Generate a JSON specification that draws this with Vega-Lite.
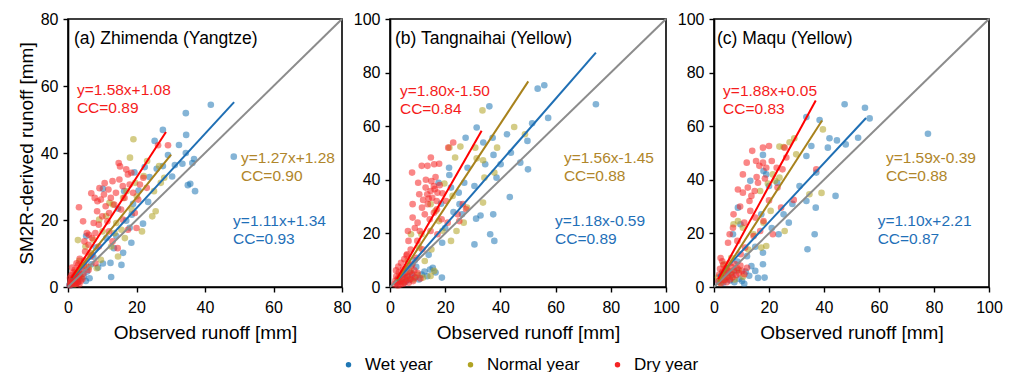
{
"$schema": "https://vega.github.io/schema/vega-lite/v6.json",
"background": "white",
"padding": {"left": 16, "top": 10, "right": 5, "bottom": 0},
"config": {
  "font": "Liberation Sans",
  "view": {"stroke": "#000", "strokeWidth": 1.6},
  "axis": {"domainColor": "#000", "domainWidth": 1.6, "tickColor": "#000", "tickWidth": 1.4, "labelColor": "#000", "labelFontSize": 16, "titleFontSize": 19, "titleFontWeight": "normal", "titleColor": "#000", "grid": false, "labelFlush": false, "labelOverlap": false},
  "axisX": {"labelPadding": 7},
  "axisY": {"labelPadding": 5},
  "legend": {"labelFontSize": 17, "labelColor": "#000", "symbolType": "circle", "symbolSize": 30, "symbolOpacity": 1, "symbolStrokeWidth": 0, "columnPadding": 29, "labelOffset": 8}
},
"datasets": {
"pts": [
{"panel":"a","year":"Wet year","obs":0.4,"sim":0.6},{"panel":"a","year":"Wet year","obs":0.7,"sim":1.4},{"panel":"a","year":"Wet year","obs":0.9,"sim":0.5},{"panel":"a","year":"Wet year","obs":1.1,"sim":2.1},{"panel":"a","year":"Wet year","obs":1.3,"sim":1.1},{"panel":"a","year":"Wet year","obs":1.6,"sim":2.9},{"panel":"a","year":"Wet year","obs":1.9,"sim":0.9},{"panel":"a","year":"Wet year","obs":2.2,"sim":3.6},{"panel":"a","year":"Wet year","obs":2.5,"sim":2.0},{"panel":"a","year":"Wet year","obs":2.9,"sim":1.4},{"panel":"a","year":"Wet year","obs":3.2,"sim":4.4},{"panel":"a","year":"Wet year","obs":3.6,"sim":2.6},{"panel":"a","year":"Wet year","obs":4.1,"sim":6.0},{"panel":"a","year":"Wet year","obs":4.6,"sim":3.1},{"panel":"a","year":"Wet year","obs":5.2,"sim":1.8},{"panel":"a","year":"Wet year","obs":5.6,"sim":4.6},{"panel":"a","year":"Wet year","obs":6.3,"sim":2.6},
{"panel":"a","year":"Wet year","obs":5.3,"sim":15.2},{"panel":"a","year":"Wet year","obs":6.8,"sim":6.8},{"panel":"a","year":"Wet year","obs":7.4,"sim":9.0},{"panel":"a","year":"Wet year","obs":8.1,"sim":11.8},{"panel":"a","year":"Wet year","obs":8.8,"sim":5.8},{"panel":"a","year":"Wet year","obs":10.2,"sim":7.0},{"panel":"a","year":"Wet year","obs":10.2,"sim":29.3},{"panel":"a","year":"Wet year","obs":11.2,"sim":14.6},{"panel":"a","year":"Wet year","obs":12.4,"sim":7.2},{"panel":"a","year":"Wet year","obs":12.6,"sim":3.0},{"panel":"a","year":"Wet year","obs":13.4,"sim":11.6},{"panel":"a","year":"Wet year","obs":14.1,"sim":15.2},{"panel":"a","year":"Wet year","obs":14.6,"sim":23.4},{"panel":"a","year":"Wet year","obs":15.6,"sim":6.6},{"panel":"a","year":"Wet year","obs":16.1,"sim":10.2},{"panel":"a","year":"Wet year","obs":16.4,"sim":28.6},{"panel":"a","year":"Wet year","obs":17.0,"sim":19.8},{"panel":"a","year":"Wet year","obs":18.0,"sim":17.7},{"panel":"a","year":"Wet year","obs":18.5,"sim":13.2},{"panel":"a","year":"Wet year","obs":18.6,"sim":21.6},{"panel":"a","year":"Wet year","obs":19.0,"sim":24.8},{"panel":"a","year":"Wet year","obs":19.4,"sim":34.2},{"panel":"a","year":"Wet year","obs":20.6,"sim":28.8},{"panel":"a","year":"Wet year","obs":21.9,"sim":18.9},{"panel":"a","year":"Wet year","obs":22.4,"sim":35.8},{"panel":"a","year":"Wet year","obs":23.4,"sim":25.4},{"panel":"a","year":"Wet year","obs":23.8,"sim":32.8},{"panel":"a","year":"Wet year","obs":25.3,"sim":43.6},{"panel":"a","year":"Wet year","obs":25.9,"sim":35.3},{"panel":"a","year":"Wet year","obs":27.7,"sim":46.9},{"panel":"a","year":"Wet year","obs":27.7,"sim":36.1},{"panel":"a","year":"Wet year","obs":29.2,"sim":39.4},{"panel":"a","year":"Wet year","obs":30.4,"sim":33.0},{"panel":"a","year":"Wet year","obs":31.2,"sim":36.4},{"panel":"a","year":"Wet year","obs":32.4,"sim":42.4},{"panel":"a","year":"Wet year","obs":33.4,"sim":36.8},{"panel":"a","year":"Wet year","obs":34.4,"sim":51.9},{"panel":"a","year":"Wet year","obs":34.5,"sim":45.4},{"panel":"a","year":"Wet year","obs":34.4,"sim":40.0},{"panel":"a","year":"Wet year","obs":35.0,"sim":30.4},{"panel":"a","year":"Wet year","obs":35.7,"sim":30.8},{"panel":"a","year":"Wet year","obs":36.3,"sim":37.0},{"panel":"a","year":"Wet year","obs":37.1,"sim":28.6},{"panel":"a","year":"Wet year","obs":36.8,"sim":38.2},{"panel":"a","year":"Wet year","obs":41.7,"sim":54.4},{"panel":"a","year":"Wet year","obs":48.4,"sim":38.9},
{"panel":"a","year":"Normal year","obs":0.8,"sim":1.4},{"panel":"a","year":"Normal year","obs":1.4,"sim":2.4},{"panel":"a","year":"Normal year","obs":2.0,"sim":0.8},{"panel":"a","year":"Normal year","obs":2.4,"sim":4.6},{"panel":"a","year":"Normal year","obs":2.9,"sim":14.0},{"panel":"a","year":"Normal year","obs":3.3,"sim":7.8},{"panel":"a","year":"Normal year","obs":3.9,"sim":3.0},{"panel":"a","year":"Normal year","obs":4.6,"sim":6.4},{"panel":"a","year":"Normal year","obs":5.1,"sim":12.1},{"panel":"a","year":"Normal year","obs":6.1,"sim":5.9},{"panel":"a","year":"Normal year","obs":6.6,"sim":10.1},{"panel":"a","year":"Normal year","obs":7.4,"sim":14.1},{"panel":"a","year":"Normal year","obs":8.4,"sim":5.6},{"panel":"a","year":"Normal year","obs":9.1,"sim":20.1},{"panel":"a","year":"Normal year","obs":9.6,"sim":8.1},{"panel":"a","year":"Normal year","obs":10.1,"sim":16.6},{"panel":"a","year":"Normal year","obs":11.1,"sim":21.2},{"panel":"a","year":"Normal year","obs":12.1,"sim":25.1},{"panel":"a","year":"Normal year","obs":12.6,"sim":12.1},{"panel":"a","year":"Normal year","obs":13.1,"sim":24.6},{"panel":"a","year":"Normal year","obs":13.6,"sim":16.1},{"panel":"a","year":"Normal year","obs":14.1,"sim":19.1},{"panel":"a","year":"Normal year","obs":14.6,"sim":9.1},{"panel":"a","year":"Normal year","obs":15.6,"sim":17.1},{"panel":"a","year":"Normal year","obs":16.1,"sim":26.6},{"panel":"a","year":"Normal year","obs":16.6,"sim":14.6},{"panel":"a","year":"Normal year","obs":17.1,"sim":28.6},{"panel":"a","year":"Normal year","obs":18.1,"sim":38.6},{"panel":"a","year":"Normal year","obs":18.6,"sim":23.1},{"panel":"a","year":"Normal year","obs":19.1,"sim":44.1},{"panel":"a","year":"Normal year","obs":19.6,"sim":31.1},{"panel":"a","year":"Normal year","obs":20.1,"sim":27.1},{"panel":"a","year":"Normal year","obs":21.6,"sim":16.6},{"panel":"a","year":"Normal year","obs":22.1,"sim":33.1},{"panel":"a","year":"Normal year","obs":23.1,"sim":37.6},{"panel":"a","year":"Normal year","obs":24.6,"sim":21.1},{"panel":"a","year":"Normal year","obs":25.1,"sim":28.6},{"panel":"a","year":"Normal year","obs":25.6,"sim":22.6},{"panel":"a","year":"Normal year","obs":26.6,"sim":36.1},{"panel":"a","year":"Normal year","obs":27.1,"sim":31.1},{"panel":"a","year":"Normal year","obs":28.1,"sim":32.6},
{"panel":"a","year":"Dry year","obs":0.5,"sim":0.5},{"panel":"a","year":"Dry year","obs":0.7,"sim":1.3},{"panel":"a","year":"Dry year","obs":0.9,"sim":2.0},{"panel":"a","year":"Dry year","obs":1.1,"sim":0.8},{"panel":"a","year":"Dry year","obs":1.3,"sim":1.7},{"panel":"a","year":"Dry year","obs":1.5,"sim":2.6},{"panel":"a","year":"Dry year","obs":1.7,"sim":1.0},{"panel":"a","year":"Dry year","obs":1.9,"sim":3.2},{"panel":"a","year":"Dry year","obs":2.1,"sim":1.9},{"panel":"a","year":"Dry year","obs":2.3,"sim":0.9},{"panel":"a","year":"Dry year","obs":2.5,"sim":2.5},{"panel":"a","year":"Dry year","obs":2.7,"sim":4.0},{"panel":"a","year":"Dry year","obs":2.9,"sim":1.4},{"panel":"a","year":"Dry year","obs":3.1,"sim":2.9},{"panel":"a","year":"Dry year","obs":3.3,"sim":0.8},{"panel":"a","year":"Dry year","obs":3.5,"sim":3.6},{"panel":"a","year":"Dry year","obs":3.7,"sim":1.8},{"panel":"a","year":"Dry year","obs":3.9,"sim":5.2},{"panel":"a","year":"Dry year","obs":1.0,"sim":3.5},{"panel":"a","year":"Dry year","obs":0.6,"sim":2.7},{"panel":"a","year":"Dry year","obs":2.0,"sim":5.1},{"panel":"a","year":"Dry year","obs":3.0,"sim":6.6},{"panel":"a","year":"Dry year","obs":1.5,"sim":4.3},{"panel":"a","year":"Dry year","obs":2.5,"sim":1.2},{"panel":"a","year":"Dry year","obs":4.2,"sim":2.4},{"panel":"a","year":"Dry year","obs":4.5,"sim":4.0},{"panel":"a","year":"Dry year","obs":1.2,"sim":5.8},{"panel":"a","year":"Dry year","obs":3.4,"sim":8.4},
{"panel":"a","year":"Dry year","obs":3.2,"sim":23.8},{"panel":"a","year":"Dry year","obs":4.4,"sim":19.6},{"panel":"a","year":"Dry year","obs":6.1,"sim":15.6},{"panel":"a","year":"Dry year","obs":6.8,"sim":28.0},{"panel":"a","year":"Dry year","obs":7.8,"sim":26.6},{"panel":"a","year":"Dry year","obs":9.2,"sim":29.5},{"panel":"a","year":"Dry year","obs":10.7,"sim":31.0},{"panel":"a","year":"Dry year","obs":14.8,"sim":37.0},{"panel":"a","year":"Dry year","obs":15.2,"sim":36.0},{"panel":"a","year":"Dry year","obs":26.3,"sim":42.3},{"panel":"a","year":"Dry year","obs":29.2,"sim":42.3},
{"panel":"a","year":"Dry year","obs":4.8,"sim":8.0},{"panel":"a","year":"Dry year","obs":5.0,"sim":10.6},{"panel":"a","year":"Dry year","obs":5.5,"sim":6.1},{"panel":"a","year":"Dry year","obs":6.0,"sim":12.6},{"panel":"a","year":"Dry year","obs":6.5,"sim":9.1},{"panel":"a","year":"Dry year","obs":7.0,"sim":14.6},{"panel":"a","year":"Dry year","obs":7.5,"sim":19.1},{"panel":"a","year":"Dry year","obs":8.0,"sim":16.1},{"panel":"a","year":"Dry year","obs":8.5,"sim":22.6},{"panel":"a","year":"Dry year","obs":8.6,"sim":25.6},{"panel":"a","year":"Dry year","obs":9.0,"sim":18.6},{"panel":"a","year":"Dry year","obs":9.6,"sim":26.1},{"panel":"a","year":"Dry year","obs":10.0,"sim":21.1},{"panel":"a","year":"Dry year","obs":10.5,"sim":27.6},{"panel":"a","year":"Dry year","obs":11.0,"sim":24.1},{"panel":"a","year":"Dry year","obs":11.5,"sim":19.6},{"panel":"a","year":"Dry year","obs":11.8,"sim":29.1},{"panel":"a","year":"Dry year","obs":12.0,"sim":22.1},{"panel":"a","year":"Dry year","obs":12.5,"sim":26.6},{"panel":"a","year":"Dry year","obs":13.0,"sim":31.6},{"panel":"a","year":"Dry year","obs":13.5,"sim":24.6},{"panel":"a","year":"Dry year","obs":14.0,"sim":28.1},{"panel":"a","year":"Dry year","obs":15.0,"sim":32.1},{"panel":"a","year":"Dry year","obs":15.5,"sim":23.1},{"panel":"a","year":"Dry year","obs":16.0,"sim":30.1},{"panel":"a","year":"Dry year","obs":16.5,"sim":26.6},{"panel":"a","year":"Dry year","obs":17.0,"sim":35.1},{"panel":"a","year":"Dry year","obs":17.5,"sim":33.6},{"panel":"a","year":"Dry year","obs":18.0,"sim":30.6},{"panel":"a","year":"Dry year","obs":18.5,"sim":34.1},{"panel":"a","year":"Dry year","obs":19.0,"sim":28.1},{"panel":"a","year":"Dry year","obs":19.5,"sim":22.1},{"panel":"a","year":"Dry year","obs":20.0,"sim":17.6},{"panel":"a","year":"Dry year","obs":20.5,"sim":26.1},{"panel":"a","year":"Dry year","obs":21.0,"sim":30.6},{"panel":"a","year":"Dry year","obs":22.0,"sim":32.6},{"panel":"a","year":"Dry year","obs":23.0,"sim":29.6},{"panel":"a","year":"Dry year","obs":6.0,"sim":5.1},{"panel":"a","year":"Dry year","obs":7.0,"sim":9.6},{"panel":"a","year":"Dry year","obs":8.0,"sim":7.1},{"panel":"a","year":"Dry year","obs":9.0,"sim":12.1},{"panel":"a","year":"Dry year","obs":4.8,"sim":13.6},{"panel":"a","year":"Dry year","obs":5.5,"sim":16.1},{"panel":"a","year":"Dry year","obs":13.0,"sim":13.6},{"panel":"a","year":"Dry year","obs":14.5,"sim":11.6},{"panel":"a","year":"Dry year","obs":12.0,"sim":16.6},{"panel":"a","year":"Dry year","obs":16.0,"sim":20.1},{"panel":"a","year":"Dry year","obs":17.5,"sim":17.1},{"panel":"a","year":"Dry year","obs":2.5,"sim":7.1},
{"panel":"b","year":"Wet year","obs":2.5,"sim":1.5},{"panel":"b","year":"Wet year","obs":3.2,"sim":3.0},{"panel":"b","year":"Wet year","obs":4.0,"sim":2.2},{"panel":"b","year":"Wet year","obs":4.8,"sim":4.5},{"panel":"b","year":"Wet year","obs":5.5,"sim":1.8},{"panel":"b","year":"Wet year","obs":6.2,"sim":3.6},{"panel":"b","year":"Wet year","obs":7.0,"sim":2.6},{"panel":"b","year":"Wet year","obs":7.8,"sim":5.2},{"panel":"b","year":"Wet year","obs":8.8,"sim":3.4},{"panel":"b","year":"Wet year","obs":9.5,"sim":7.5},{"panel":"b","year":"Wet year","obs":10.5,"sim":2.8},{"panel":"b","year":"Wet year","obs":11.5,"sim":4.6},{"panel":"b","year":"Wet year","obs":12.5,"sim":5.8},{"panel":"b","year":"Wet year","obs":13.5,"sim":4.0},{"panel":"b","year":"Wet year","obs":14.5,"sim":6.5},{"panel":"b","year":"Wet year","obs":15.5,"sim":7.2},{"panel":"b","year":"Wet year","obs":16.5,"sim":5.4},{"panel":"b","year":"Wet year","obs":18.8,"sim":3.5},{"panel":"b","year":"Wet year","obs":9.0,"sim":10.0},{"panel":"b","year":"Wet year","obs":6.0,"sim":6.8},
{"panel":"b","year":"Wet year","obs":17.6,"sim":38.9},{"panel":"b","year":"Wet year","obs":18.5,"sim":31.1},{"panel":"b","year":"Wet year","obs":18.9,"sim":16.5},{"panel":"b","year":"Wet year","obs":21.4,"sim":44.5},{"panel":"b","year":"Wet year","obs":21.5,"sim":41.8},{"panel":"b","year":"Wet year","obs":22.1,"sim":37.1},{"panel":"b","year":"Wet year","obs":24.9,"sim":35.2},{"panel":"b","year":"Wet year","obs":25.2,"sim":30.9},{"panel":"b","year":"Wet year","obs":26.1,"sim":27.1},{"panel":"b","year":"Wet year","obs":26.9,"sim":38.9},{"panel":"b","year":"Wet year","obs":27.4,"sim":55.7},{"panel":"b","year":"Wet year","obs":28.1,"sim":44.5},{"panel":"b","year":"Wet year","obs":30.6,"sim":37.7},{"panel":"b","year":"Wet year","obs":30.6,"sim":15.9},{"panel":"b","year":"Wet year","obs":31.2,"sim":25.5},{"panel":"b","year":"Wet year","obs":31.4,"sim":59.5},{"panel":"b","year":"Wet year","obs":32.8,"sim":26.7},{"panel":"b","year":"Wet year","obs":33.8,"sim":53.9},{"panel":"b","year":"Wet year","obs":34.5,"sim":45.8},{"panel":"b","year":"Wet year","obs":36.0,"sim":67.4},{"panel":"b","year":"Wet year","obs":36.3,"sim":19.7},{"panel":"b","year":"Wet year","obs":37.2,"sim":55.7},{"panel":"b","year":"Wet year","obs":37.4,"sim":27.1},{"panel":"b","year":"Wet year","obs":37.5,"sim":49.3},{"panel":"b","year":"Wet year","obs":37.8,"sim":17.2},{"panel":"b","year":"Wet year","obs":38.6,"sim":40.8},{"panel":"b","year":"Wet year","obs":40.1,"sim":45.8},{"panel":"b","year":"Wet year","obs":42.4,"sim":57.0},{"panel":"b","year":"Wet year","obs":43.4,"sim":33.6},{"panel":"b","year":"Wet year","obs":43.8,"sim":50.1},{"panel":"b","year":"Wet year","obs":47.2,"sim":46.4},{"panel":"b","year":"Wet year","obs":49.8,"sim":54.5},{"panel":"b","year":"Wet year","obs":50.0,"sim":43.9},{"panel":"b","year":"Wet year","obs":51.5,"sim":61.1},{"panel":"b","year":"Wet year","obs":53.5,"sim":74.0},{"panel":"b","year":"Wet year","obs":55.9,"sim":75.3},{"panel":"b","year":"Wet year","obs":57.3,"sim":63.1},{"panel":"b","year":"Wet year","obs":74.6,"sim":68.2},{"panel":"b","year":"Wet year","obs":14.0,"sim":12.0},{"panel":"b","year":"Wet year","obs":20.0,"sim":22.0},{"panel":"b","year":"Wet year","obs":23.0,"sim":28.0},
{"panel":"b","year":"Normal year","obs":2.8,"sim":2.5},{"panel":"b","year":"Normal year","obs":3.6,"sim":4.2},{"panel":"b","year":"Normal year","obs":4.5,"sim":2.0},{"panel":"b","year":"Normal year","obs":5.5,"sim":5.5},{"panel":"b","year":"Normal year","obs":6.5,"sim":3.2},{"panel":"b","year":"Normal year","obs":7.5,"sim":6.0},{"panel":"b","year":"Normal year","obs":8.5,"sim":2.8},{"panel":"b","year":"Normal year","obs":10.0,"sim":4.5},{"panel":"b","year":"Normal year","obs":12.0,"sim":3.5},{"panel":"b","year":"Normal year","obs":14.7,"sim":4.1},{"panel":"b","year":"Normal year","obs":16.0,"sim":6.0},{"panel":"b","year":"Normal year","obs":6.4,"sim":9.7},{"panel":"b","year":"Normal year","obs":12.6,"sim":9.7},
{"panel":"b","year":"Normal year","obs":7.6,"sim":19.7},{"panel":"b","year":"Normal year","obs":10.6,"sim":14.7},{"panel":"b","year":"Normal year","obs":11.4,"sim":19.7},{"panel":"b","year":"Normal year","obs":14.7,"sim":30.9},{"panel":"b","year":"Normal year","obs":16.5,"sim":28.4},{"panel":"b","year":"Normal year","obs":17.7,"sim":24.6},{"panel":"b","year":"Normal year","obs":19.7,"sim":38.6},{"panel":"b","year":"Normal year","obs":21.5,"sim":52.0},{"panel":"b","year":"Normal year","obs":22.1,"sim":17.2},{"panel":"b","year":"Normal year","obs":22.7,"sim":34.0},{"panel":"b","year":"Normal year","obs":23.6,"sim":48.3},{"panel":"b","year":"Normal year","obs":24.1,"sim":20.9},{"panel":"b","year":"Normal year","obs":25.5,"sim":52.4},{"panel":"b","year":"Normal year","obs":26.7,"sim":24.0},{"panel":"b","year":"Normal year","obs":27.9,"sim":29.6},{"panel":"b","year":"Normal year","obs":30.9,"sim":52.0},{"panel":"b","year":"Normal year","obs":31.4,"sim":48.0},{"panel":"b","year":"Normal year","obs":33.5,"sim":65.9},{"panel":"b","year":"Normal year","obs":33.7,"sim":47.3},{"panel":"b","year":"Normal year","obs":33.7,"sim":31.5},{"panel":"b","year":"Normal year","obs":34.2,"sim":40.8},{"panel":"b","year":"Normal year","obs":37.8,"sim":42.7},{"panel":"b","year":"Normal year","obs":38.8,"sim":52.0},{"panel":"b","year":"Normal year","obs":45.0,"sim":59.7},{"panel":"b","year":"Normal year","obs":48.9,"sim":57.0},{"panel":"b","year":"Normal year","obs":19.0,"sim":21.0},{"panel":"b","year":"Normal year","obs":15.0,"sim":14.0},
{"panel":"b","year":"Dry year","obs":1.6,"sim":1.0},{"panel":"b","year":"Dry year","obs":2.0,"sim":2.4},{"panel":"b","year":"Dry year","obs":2.3,"sim":4.0},{"panel":"b","year":"Dry year","obs":2.6,"sim":1.6},{"panel":"b","year":"Dry year","obs":2.9,"sim":3.2},{"panel":"b","year":"Dry year","obs":3.2,"sim":5.4},{"panel":"b","year":"Dry year","obs":3.5,"sim":2.2},{"panel":"b","year":"Dry year","obs":3.8,"sim":0.9},{"panel":"b","year":"Dry year","obs":4.1,"sim":4.6},{"panel":"b","year":"Dry year","obs":4.4,"sim":3.0},{"panel":"b","year":"Dry year","obs":4.7,"sim":6.6},{"panel":"b","year":"Dry year","obs":5.0,"sim":1.6},{"panel":"b","year":"Dry year","obs":5.3,"sim":3.8},{"panel":"b","year":"Dry year","obs":5.6,"sim":5.2},{"panel":"b","year":"Dry year","obs":5.9,"sim":2.4},{"panel":"b","year":"Dry year","obs":6.2,"sim":7.2},{"panel":"b","year":"Dry year","obs":6.5,"sim":4.0},{"panel":"b","year":"Dry year","obs":6.8,"sim":1.6},{"panel":"b","year":"Dry year","obs":7.1,"sim":5.6},{"panel":"b","year":"Dry year","obs":7.4,"sim":3.0},{"panel":"b","year":"Dry year","obs":7.7,"sim":8.0},{"panel":"b","year":"Dry year","obs":8.0,"sim":4.6},{"panel":"b","year":"Dry year","obs":8.4,"sim":2.2},{"panel":"b","year":"Dry year","obs":8.8,"sim":6.2},{"panel":"b","year":"Dry year","obs":9.2,"sim":3.6},{"panel":"b","year":"Dry year","obs":2.2,"sim":6.2},{"panel":"b","year":"Dry year","obs":3.0,"sim":7.6},{"panel":"b","year":"Dry year","obs":4.0,"sim":9.0},{"panel":"b","year":"Dry year","obs":5.2,"sim":10.4},{"panel":"b","year":"Dry year","obs":6.0,"sim":11.8},{"panel":"b","year":"Dry year","obs":10.0,"sim":5.2},{"panel":"b","year":"Dry year","obs":11.0,"sim":3.2},{"panel":"b","year":"Dry year","obs":2.8,"sim":0.6},{"panel":"b","year":"Dry year","obs":4.8,"sim":1.2},
{"panel":"b","year":"Dry year","obs":6.2,"sim":12.2},{"panel":"b","year":"Dry year","obs":6.5,"sim":20.9},{"panel":"b","year":"Dry year","obs":6.7,"sim":17.2},{"panel":"b","year":"Dry year","obs":8.0,"sim":42.7},{"panel":"b","year":"Dry year","obs":8.1,"sim":8.5},{"panel":"b","year":"Dry year","obs":8.2,"sim":30.9},{"panel":"b","year":"Dry year","obs":8.2,"sim":25.9},{"panel":"b","year":"Dry year","obs":9.6,"sim":10.9},{"panel":"b","year":"Dry year","obs":9.9,"sim":17.2},{"panel":"b","year":"Dry year","obs":10.2,"sim":38.9},{"panel":"b","year":"Dry year","obs":10.6,"sim":34.6},{"panel":"b","year":"Dry year","obs":10.8,"sim":20.9},{"panel":"b","year":"Dry year","obs":11.5,"sim":45.2},{"panel":"b","year":"Dry year","obs":11.6,"sim":29.6},{"panel":"b","year":"Dry year","obs":11.7,"sim":14.1},{"panel":"b","year":"Dry year","obs":12.6,"sim":27.1},{"panel":"b","year":"Dry year","obs":12.9,"sim":37.1},{"panel":"b","year":"Dry year","obs":13.5,"sim":34.6},{"panel":"b","year":"Dry year","obs":13.6,"sim":45.2},{"panel":"b","year":"Dry year","obs":13.7,"sim":30.9},{"panel":"b","year":"Dry year","obs":14.4,"sim":25.3},{"panel":"b","year":"Dry year","obs":14.7,"sim":35.8},{"panel":"b","year":"Dry year","obs":14.7,"sim":20.9},{"panel":"b","year":"Dry year","obs":14.8,"sim":48.3},{"panel":"b","year":"Dry year","obs":15.3,"sim":33.3},{"panel":"b","year":"Dry year","obs":15.9,"sim":37.7},{"panel":"b","year":"Dry year","obs":15.9,"sim":27.7},{"panel":"b","year":"Dry year","obs":16.0,"sim":45.8},{"panel":"b","year":"Dry year","obs":16.9,"sim":32.1},{"panel":"b","year":"Dry year","obs":17.2,"sim":35.2},{"panel":"b","year":"Dry year","obs":17.2,"sim":19.7},{"panel":"b","year":"Dry year","obs":17.8,"sim":46.0},{"panel":"b","year":"Dry year","obs":18.7,"sim":25.3},{"panel":"b","year":"Dry year","obs":20.3,"sim":32.1},{"panel":"b","year":"Dry year","obs":20.9,"sim":24.0},{"panel":"b","year":"Dry year","obs":21.1,"sim":52.0},{"panel":"b","year":"Dry year","obs":22.9,"sim":53.9},{"panel":"b","year":"Dry year","obs":24.5,"sim":27.1},{"panel":"b","year":"Dry year","obs":25.1,"sim":24.6},{"panel":"b","year":"Dry year","obs":26.4,"sim":30.9},{"panel":"b","year":"Dry year","obs":27.6,"sim":29.0},{"panel":"b","year":"Dry year","obs":15.0,"sim":39.5},{"panel":"b","year":"Dry year","obs":16.2,"sim":36.5},{"panel":"b","year":"Dry year","obs":14.0,"sim":33.0},{"panel":"b","year":"Dry year","obs":13.0,"sim":40.0},{"panel":"b","year":"Dry year","obs":17.0,"sim":29.0},{"panel":"b","year":"Dry year","obs":18.0,"sim":38.0},{"panel":"b","year":"Dry year","obs":12.0,"sim":32.5},{"panel":"b","year":"Dry year","obs":16.5,"sim":41.0},{"panel":"b","year":"Dry year","obs":19.0,"sim":35.0},{"panel":"b","year":"Dry year","obs":9.0,"sim":22.0},{"panel":"b","year":"Dry year","obs":7.5,"sim":14.0},{"panel":"b","year":"Dry year","obs":10.0,"sim":24.0},
{"panel":"c","year":"Wet year","obs":1.8,"sim":2.0},{"panel":"c","year":"Wet year","obs":2.6,"sim":4.2},{"panel":"c","year":"Wet year","obs":3.4,"sim":1.6},{"panel":"c","year":"Wet year","obs":4.2,"sim":3.4},{"panel":"c","year":"Wet year","obs":5.0,"sim":5.4},{"panel":"c","year":"Wet year","obs":5.8,"sim":2.4},{"panel":"c","year":"Wet year","obs":6.6,"sim":4.6},{"panel":"c","year":"Wet year","obs":7.4,"sim":1.8},{"panel":"c","year":"Wet year","obs":8.2,"sim":6.2},{"panel":"c","year":"Wet year","obs":9.2,"sim":3.0},{"panel":"c","year":"Wet year","obs":10.2,"sim":2.2},{"panel":"c","year":"Wet year","obs":11.5,"sim":5.8},{"panel":"c","year":"Wet year","obs":12.8,"sim":4.2},{"panel":"c","year":"Wet year","obs":13.6,"sim":7.8},{"panel":"c","year":"Wet year","obs":15.0,"sim":6.0},{"panel":"c","year":"Wet year","obs":16.0,"sim":3.4},{"panel":"c","year":"Wet year","obs":17.8,"sim":8.5},{"panel":"c","year":"Wet year","obs":18.4,"sim":3.5},{"panel":"c","year":"Wet year","obs":8.5,"sim":9.5},{"panel":"c","year":"Wet year","obs":11.0,"sim":1.2},
{"panel":"c","year":"Wet year","obs":6.9,"sim":19.7},{"panel":"c","year":"Wet year","obs":8.7,"sim":29.6},{"panel":"c","year":"Wet year","obs":9.6,"sim":23.4},{"panel":"c","year":"Wet year","obs":13.2,"sim":39.6},{"panel":"c","year":"Wet year","obs":17.2,"sim":27.1},{"panel":"c","year":"Wet year","obs":17.8,"sim":49.3},{"panel":"c","year":"Wet year","obs":17.8,"sim":12.8},{"panel":"c","year":"Wet year","obs":18.0,"sim":43.3},{"panel":"c","year":"Wet year","obs":19.0,"sim":42.0},{"panel":"c","year":"Wet year","obs":20.0,"sim":37.7},{"panel":"c","year":"Wet year","obs":23.0,"sim":38.9},{"panel":"c","year":"Wet year","obs":23.5,"sim":19.7},{"panel":"c","year":"Wet year","obs":25.3,"sim":27.1},{"panel":"c","year":"Wet year","obs":27.2,"sim":24.0},{"panel":"c","year":"Wet year","obs":31.1,"sim":37.7},{"panel":"c","year":"Wet year","obs":33.6,"sim":63.4},{"panel":"c","year":"Wet year","obs":33.6,"sim":48.9},{"panel":"c","year":"Wet year","obs":33.6,"sim":32.1},{"panel":"c","year":"Wet year","obs":34.0,"sim":14.1},{"panel":"c","year":"Wet year","obs":35.4,"sim":52.6},{"panel":"c","year":"Wet year","obs":36.6,"sim":19.7},{"panel":"c","year":"Wet year","obs":37.0,"sim":29.6},{"panel":"c","year":"Wet year","obs":37.2,"sim":42.7},{"panel":"c","year":"Wet year","obs":38.4,"sim":62.3},{"panel":"c","year":"Wet year","obs":41.4,"sim":52.0},{"panel":"c","year":"Wet year","obs":42.0,"sim":55.5},{"panel":"c","year":"Wet year","obs":44.2,"sim":34.0},{"panel":"c","year":"Wet year","obs":44.7,"sim":54.7},{"panel":"c","year":"Wet year","obs":47.5,"sim":68.2},{"panel":"c","year":"Wet year","obs":47.9,"sim":53.2},{"panel":"c","year":"Wet year","obs":52.4,"sim":55.7},{"panel":"c","year":"Wet year","obs":54.9,"sim":66.9},{"panel":"c","year":"Wet year","obs":56.6,"sim":62.9},{"panel":"c","year":"Wet year","obs":77.8,"sim":57.2},{"panel":"c","year":"Wet year","obs":15.0,"sim":15.0},{"panel":"c","year":"Wet year","obs":21.0,"sim":22.0},{"panel":"c","year":"Wet year","obs":28.5,"sim":31.0},{"panel":"c","year":"Wet year","obs":12.0,"sim":11.5},
{"panel":"c","year":"Normal year","obs":1.5,"sim":3.6},{"panel":"c","year":"Normal year","obs":2.2,"sim":1.6},{"panel":"c","year":"Normal year","obs":3.0,"sim":5.2},{"panel":"c","year":"Normal year","obs":3.8,"sim":2.6},{"panel":"c","year":"Normal year","obs":4.6,"sim":7.0},{"panel":"c","year":"Normal year","obs":5.5,"sim":3.6},{"panel":"c","year":"Normal year","obs":6.5,"sim":5.6},{"panel":"c","year":"Normal year","obs":7.5,"sim":2.8},{"panel":"c","year":"Normal year","obs":9.0,"sim":6.4},{"panel":"c","year":"Normal year","obs":10.5,"sim":3.8},{"panel":"c","year":"Normal year","obs":6.3,"sim":10.9},{"panel":"c","year":"Normal year","obs":3.5,"sim":8.6},
{"panel":"c","year":"Normal year","obs":7.1,"sim":23.4},{"panel":"c","year":"Normal year","obs":8.7,"sim":24.6},{"panel":"c","year":"Normal year","obs":10.5,"sim":22.1},{"panel":"c","year":"Normal year","obs":14.4,"sim":19.7},{"panel":"c","year":"Normal year","obs":16.8,"sim":35.8},{"panel":"c","year":"Normal year","obs":17.2,"sim":14.7},{"panel":"c","year":"Normal year","obs":19.0,"sim":15.3},{"panel":"c","year":"Normal year","obs":19.6,"sim":38.6},{"panel":"c","year":"Normal year","obs":20.6,"sim":28.4},{"panel":"c","year":"Normal year","obs":21.4,"sim":42.0},{"panel":"c","year":"Normal year","obs":22.2,"sim":39.6},{"panel":"c","year":"Normal year","obs":23.8,"sim":40.8},{"panel":"c","year":"Normal year","obs":23.8,"sim":52.4},{"panel":"c","year":"Normal year","obs":25.3,"sim":52.2},{"panel":"c","year":"Normal year","obs":25.7,"sim":20.9},{"panel":"c","year":"Normal year","obs":29.2,"sim":55.5},{"panel":"c","year":"Normal year","obs":29.9,"sim":49.5},{"panel":"c","year":"Normal year","obs":34.7,"sim":34.6},{"panel":"c","year":"Normal year","obs":39.1,"sim":35.1},{"panel":"c","year":"Normal year","obs":39.6,"sim":58.8},{"panel":"c","year":"Normal year","obs":27.5,"sim":54.0},{"panel":"c","year":"Normal year","obs":18.0,"sim":24.0},{"panel":"c","year":"Normal year","obs":12.5,"sim":14.0},
{"panel":"c","year":"Dry year","obs":1.6,"sim":2.2},{"panel":"c","year":"Dry year","obs":1.9,"sim":4.6},{"panel":"c","year":"Dry year","obs":2.2,"sim":6.8},{"panel":"c","year":"Dry year","obs":2.5,"sim":1.4},{"panel":"c","year":"Dry year","obs":2.8,"sim":3.6},{"panel":"c","year":"Dry year","obs":3.1,"sim":5.8},{"panel":"c","year":"Dry year","obs":3.4,"sim":8.2},{"panel":"c","year":"Dry year","obs":3.7,"sim":2.6},{"panel":"c","year":"Dry year","obs":4.0,"sim":4.8},{"panel":"c","year":"Dry year","obs":4.3,"sim":7.0},{"panel":"c","year":"Dry year","obs":4.6,"sim":1.8},{"panel":"c","year":"Dry year","obs":4.9,"sim":3.8},{"panel":"c","year":"Dry year","obs":5.2,"sim":6.0},{"panel":"c","year":"Dry year","obs":5.5,"sim":8.8},{"panel":"c","year":"Dry year","obs":5.8,"sim":2.8},{"panel":"c","year":"Dry year","obs":6.1,"sim":5.0},{"panel":"c","year":"Dry year","obs":6.4,"sim":7.4},{"panel":"c","year":"Dry year","obs":6.8,"sim":3.6},{"panel":"c","year":"Dry year","obs":7.2,"sim":6.2},{"panel":"c","year":"Dry year","obs":7.6,"sim":8.6},{"panel":"c","year":"Dry year","obs":8.0,"sim":4.4},{"panel":"c","year":"Dry year","obs":8.5,"sim":7.0},{"panel":"c","year":"Dry year","obs":9.0,"sim":5.2},{"panel":"c","year":"Dry year","obs":9.6,"sim":8.0},{"panel":"c","year":"Dry year","obs":10.2,"sim":6.0},{"panel":"c","year":"Dry year","obs":11.0,"sim":4.8},{"panel":"c","year":"Dry year","obs":3.0,"sim":9.6},{"panel":"c","year":"Dry year","obs":2.4,"sim":10.8},{"panel":"c","year":"Dry year","obs":12.0,"sim":7.2},
{"panel":"c","year":"Dry year","obs":5.1,"sim":16.5},{"panel":"c","year":"Dry year","obs":5.7,"sim":19.7},{"panel":"c","year":"Dry year","obs":6.9,"sim":22.1},{"panel":"c","year":"Dry year","obs":7.1,"sim":27.1},{"panel":"c","year":"Dry year","obs":8.5,"sim":17.2},{"panel":"c","year":"Dry year","obs":8.7,"sim":36.4},{"panel":"c","year":"Dry year","obs":9.7,"sim":12.2},{"panel":"c","year":"Dry year","obs":10.5,"sim":42.0},{"panel":"c","year":"Dry year","obs":10.5,"sim":35.2},{"panel":"c","year":"Dry year","obs":11.3,"sim":14.7},{"panel":"c","year":"Dry year","obs":11.9,"sim":46.4},{"panel":"c","year":"Dry year","obs":12.3,"sim":37.1},{"panel":"c","year":"Dry year","obs":12.9,"sim":32.1},{"panel":"c","year":"Dry year","obs":13.2,"sim":28.4},{"panel":"c","year":"Dry year","obs":13.6,"sim":34.0},{"panel":"c","year":"Dry year","obs":13.9,"sim":50.8},{"panel":"c","year":"Dry year","obs":14.4,"sim":19.0},{"panel":"c","year":"Dry year","obs":14.8,"sim":35.8},{"panel":"c","year":"Dry year","obs":15.0,"sim":25.9},{"panel":"c","year":"Dry year","obs":15.3,"sim":47.0},{"panel":"c","year":"Dry year","obs":16.0,"sim":38.9},{"panel":"c","year":"Dry year","obs":16.5,"sim":45.2},{"panel":"c","year":"Dry year","obs":16.8,"sim":20.9},{"panel":"c","year":"Dry year","obs":17.8,"sim":52.0},{"panel":"c","year":"Dry year","obs":17.8,"sim":46.4},{"panel":"c","year":"Dry year","obs":18.0,"sim":24.6},{"panel":"c","year":"Dry year","obs":19.0,"sim":44.5},{"panel":"c","year":"Dry year","obs":20.0,"sim":52.6},{"panel":"c","year":"Dry year","obs":20.0,"sim":32.3},{"panel":"c","year":"Dry year","obs":21.0,"sim":47.0},{"panel":"c","year":"Dry year","obs":21.4,"sim":19.7},{"panel":"c","year":"Dry year","obs":22.8,"sim":44.5},{"panel":"c","year":"Dry year","obs":23.1,"sim":37.1},{"panel":"c","year":"Dry year","obs":24.4,"sim":29.6},{"panel":"c","year":"Dry year","obs":24.9,"sim":43.9},{"panel":"c","year":"Dry year","obs":25.7,"sim":52.0},{"panel":"c","year":"Dry year","obs":26.3,"sim":48.3},{"panel":"c","year":"Dry year","obs":29.0,"sim":32.5},{"panel":"c","year":"Dry year","obs":37.2,"sim":43.9},{"panel":"c","year":"Dry year","obs":11.0,"sim":24.0},{"panel":"c","year":"Dry year","obs":9.5,"sim":30.0},{"panel":"c","year":"Dry year","obs":15.5,"sim":41.0},{"panel":"c","year":"Dry year","obs":18.5,"sim":40.5}
],
"fits": [
{"panel":"a","year":"1:1","obs":0,"sim":0},{"panel":"a","year":"1:1","obs":80,"sim":80},
{"panel":"a","year":"Wet year","obs":1.0,"sim":2.45},{"panel":"a","year":"Wet year","obs":48.5,"sim":55.18},
{"panel":"a","year":"Normal year","obs":1.0,"sim":2.55},{"panel":"a","year":"Normal year","obs":30.1,"sim":39.51},
{"panel":"a","year":"Dry year","obs":1.0,"sim":2.66},{"panel":"a","year":"Dry year","obs":28.6,"sim":46.27},
{"panel":"b","year":"1:1","obs":0,"sim":0},{"panel":"b","year":"1:1","obs":100,"sim":100},
{"panel":"b","year":"Wet year","obs":2.5,"sim":2.36},{"panel":"b","year":"Wet year","obs":74.6,"sim":87.44},
{"panel":"b","year":"Normal year","obs":2.5,"sim":2.45},{"panel":"b","year":"Normal year","obs":50.1,"sim":76.71},
{"panel":"b","year":"Dry year","obs":2.5,"sim":3.0},{"panel":"b","year":"Dry year","obs":33.2,"sim":58.26},
{"panel":"c","year":"1:1","obs":0,"sim":0},{"panel":"c","year":"1:1","obs":100,"sim":100},
{"panel":"c","year":"Wet year","obs":1.5,"sim":3.86},{"panel":"c","year":"Wet year","obs":55.3,"sim":63.04},
{"panel":"c","year":"Normal year","obs":1.5,"sim":2.0},{"panel":"c","year":"Normal year","obs":39.3,"sim":62.1},
{"panel":"c","year":"Dry year","obs":1.5,"sim":2.87},{"panel":"c","year":"Dry year","obs":37.0,"sim":69.61}
],
"notes": [
{"panel":"a","year":"title","label":"(a) Zhimenda (Yangtze)"},
{"panel":"a","year":"Dry year","label":"y=1.58x+1.08\nCC=0.89"},
{"panel":"a","year":"Normal year","label":"y=1.27x+1.28\nCC=0.90"},
{"panel":"a","year":"Wet year","label":"y=1.11x+1.34\nCC=0.93"},
{"panel":"b","year":"title","label":"(b) Tangnaihai (Yellow)"},
{"panel":"b","year":"Dry year","label":"y=1.80x-1.50\nCC=0.84"},
{"panel":"b","year":"Normal year","label":"y=1.56x-1.45\nCC=0.88"},
{"panel":"b","year":"Wet year","label":"y=1.18x-0.59\nCC=0.89"},
{"panel":"c","year":"title","label":"(c) Maqu (Yellow)"},
{"panel":"c","year":"Dry year","label":"y=1.88x+0.05\nCC=0.83"},
{"panel":"c","year":"Normal year","label":"y=1.59x-0.39\nCC=0.88"},
{"panel":"c","year":"Wet year","label":"y=1.10x+2.21\nCC=0.87"}
]
},
"spacing": 48,
"bounds": "flush",
"resolve": {"scale": {"x": "independent", "y": "independent"}},
"hconcat": [
{
 "width": 274, "height": 268,
 "layer": [
  {"data": {"name": "pts"}, "transform": [{"filter": "datum.panel === 'a'"}],
   "mark": {"type": "circle", "size": 44, "opacity": 0.55},
   "encoding": {
    "x": {"field": "obs", "type": "quantitative", "scale": {"domain": [0, 80], "nice": false},
      "axis": {"title": "Observed runoff [mm]", "values": [0,10,20,30,40,50,60,70,80], "labelExpr": "datum.value % 20 === 0 ? datum.label : ''", "tickSize": {"condition": {"test": "datum.value % 20 === 0", "value": 5}, "value": 3}, "titlePadding": 8}},
    "y": {"field": "sim", "type": "quantitative", "scale": {"domain": [0, 80], "nice": false},
      "axis": {"title": "SM2R-derived runoff [mm]", "values": [0,10,20,30,40,50,60,70,80], "labelExpr": "datum.value % 20 === 0 ? datum.label : ''", "tickSize": {"condition": {"test": "datum.value % 20 === 0", "value": 5}, "value": 3}, "titlePadding": 4}},
    "color": {"field": "year", "type": "nominal", "scale": {"domain": ["Wet year", "Normal year", "Dry year"], "range": ["#1f77b4", "#b0a323", "#f52424"]},
      "legend": {"title": null, "orient": "none", "direction": "horizontal", "legendX": 272, "legendY": 337}}
   }},
  {"data": {"name": "fits"}, "transform": [{"filter": "datum.panel === 'a'"}],
   "mark": {"type": "line", "strokeWidth": 2},
   "encoding": {
    "x": {"field": "obs", "type": "quantitative", "title": "Observed runoff [mm]"},
    "y": {"field": "sim", "type": "quantitative", "title": "SM2R-derived runoff [mm]"},
    "stroke": {"field": "year", "type": "nominal", "scale": {"domain": ["1:1", "Wet year", "Normal year", "Dry year"], "range": ["#8c8c8c", "#1f6fb4", "#a8821c", "#ff0000"]}, "legend": null}
   }},
  {"data": {"name": "notes"}, "transform": [{"filter": "datum.panel === 'a' && datum.year === 'title'"}],
   "mark": {"type": "text", "align": "left", "baseline": "middle", "fontSize": 17.5, "color": "#000"},
   "encoding": {"x": {"datum": 1.75}, "y": {"datum": 74}, "text": {"field": "label"}}},
  {"data": {"name": "notes"}, "transform": [{"filter": "datum.panel === 'a' && datum.year === 'Dry year'"}],
   "mark": {"type": "text", "align": "left", "baseline": "middle", "fontSize": 15.5, "lineHeight": 18, "lineBreak": "\n", "color": "#f51c1c"},
   "encoding": {"x": {"datum": 2.6}, "y": {"datum": 58.8}, "text": {"field": "label"}}},
  {"data": {"name": "notes"}, "transform": [{"filter": "datum.panel === 'a' && datum.year === 'Normal year'"}],
   "mark": {"type": "text", "align": "left", "baseline": "middle", "fontSize": 15.5, "lineHeight": 18, "lineBreak": "\n", "color": "#b0862a"},
   "encoding": {"x": {"datum": 50.5}, "y": {"datum": 38.5}, "text": {"field": "label"}}},
  {"data": {"name": "notes"}, "transform": [{"filter": "datum.panel === 'a' && datum.year === 'Wet year'"}],
   "mark": {"type": "text", "align": "left", "baseline": "middle", "fontSize": 15.5, "lineHeight": 18, "lineBreak": "\n", "color": "#1f70b8"},
   "encoding": {"x": {"datum": 48.2}, "y": {"datum": 19.7}, "text": {"field": "label"}}}
 ]
},
{
 "width": 276, "height": 268,
 "layer": [
  {"data": {"name": "pts"}, "transform": [{"filter": "datum.panel === 'b'"}],
   "mark": {"type": "circle", "size": 44, "opacity": 0.55},
   "encoding": {
    "x": {"field": "obs", "type": "quantitative", "scale": {"domain": [0, 100], "nice": false},
      "axis": {"title": "Observed runoff [mm]", "values": [0,10,20,30,40,50,60,70,80,90,100], "labelExpr": "datum.value % 20 === 0 ? datum.label : ''", "tickSize": {"condition": {"test": "datum.value % 20 === 0", "value": 5}, "value": 3}, "titlePadding": 8}},
    "y": {"field": "sim", "type": "quantitative", "scale": {"domain": [0, 100], "nice": false},
      "axis": {"title": null, "values": [0,10,20,30,40,50,60,70,80,90,100], "labelExpr": "datum.value % 20 === 0 ? datum.label : ''", "tickSize": {"condition": {"test": "datum.value % 20 === 0", "value": 5}, "value": 3}}},
    "color": {"field": "year", "type": "nominal", "scale": {"domain": ["Wet year", "Normal year", "Dry year"], "range": ["#1f77b4", "#b0a323", "#f52424"]},
      "legend": {"title": null, "orient": "none", "direction": "horizontal", "legendX": 272, "legendY": 337}}
   }},
  {"data": {"name": "fits"}, "transform": [{"filter": "datum.panel === 'b'"}],
   "mark": {"type": "line", "strokeWidth": 2},
   "encoding": {
    "x": {"field": "obs", "type": "quantitative", "title": "Observed runoff [mm]"},
    "y": {"field": "sim", "type": "quantitative", "title": null},
    "stroke": {"field": "year", "type": "nominal", "scale": {"domain": ["1:1", "Wet year", "Normal year", "Dry year"], "range": ["#8c8c8c", "#1f6fb4", "#a8821c", "#ff0000"]}, "legend": null}
   }},
  {"data": {"name": "notes"}, "transform": [{"filter": "datum.panel === 'b' && datum.year === 'title'"}],
   "mark": {"type": "text", "align": "left", "baseline": "middle", "fontSize": 17.5, "color": "#000"},
   "encoding": {"x": {"datum": 1.8}, "y": {"datum": 92.5}, "text": {"field": "label"}}},
  {"data": {"name": "notes"}, "transform": [{"filter": "datum.panel === 'b' && datum.year === 'Dry year'"}],
   "mark": {"type": "text", "align": "left", "baseline": "middle", "fontSize": 15.5, "lineHeight": 18, "lineBreak": "\n", "color": "#f51c1c"},
   "encoding": {"x": {"datum": 3.6}, "y": {"datum": 73.1}, "text": {"field": "label"}}},
  {"data": {"name": "notes"}, "transform": [{"filter": "datum.panel === 'b' && datum.year === 'Normal year'"}],
   "mark": {"type": "text", "align": "left", "baseline": "middle", "fontSize": 15.5, "lineHeight": 18, "lineBreak": "\n", "color": "#b0862a"},
   "encoding": {"x": {"datum": 63}, "y": {"datum": 48.1}, "text": {"field": "label"}}},
  {"data": {"name": "notes"}, "transform": [{"filter": "datum.panel === 'b' && datum.year === 'Wet year'"}],
   "mark": {"type": "text", "align": "left", "baseline": "middle", "fontSize": 15.5, "lineHeight": 18, "lineBreak": "\n", "color": "#1f70b8"},
   "encoding": {"x": {"datum": 59.8}, "y": {"datum": 24.6}, "text": {"field": "label"}}}
 ]
},
{
 "width": 275, "height": 268,
 "layer": [
  {"data": {"name": "pts"}, "transform": [{"filter": "datum.panel === 'c'"}],
   "mark": {"type": "circle", "size": 44, "opacity": 0.55},
   "encoding": {
    "x": {"field": "obs", "type": "quantitative", "scale": {"domain": [0, 100], "nice": false},
      "axis": {"title": "Observed runoff [mm]", "values": [0,10,20,30,40,50,60,70,80,90,100], "labelExpr": "datum.value % 20 === 0 ? datum.label : ''", "tickSize": {"condition": {"test": "datum.value % 20 === 0", "value": 5}, "value": 3}, "titlePadding": 8}},
    "y": {"field": "sim", "type": "quantitative", "scale": {"domain": [0, 100], "nice": false},
      "axis": {"title": null, "values": [0,10,20,30,40,50,60,70,80,90,100], "labelExpr": "datum.value % 20 === 0 ? datum.label : ''", "tickSize": {"condition": {"test": "datum.value % 20 === 0", "value": 5}, "value": 3}}},
    "color": {"field": "year", "type": "nominal", "scale": {"domain": ["Wet year", "Normal year", "Dry year"], "range": ["#1f77b4", "#b0a323", "#f52424"]},
      "legend": {"title": null, "orient": "none", "direction": "horizontal", "legendX": 272, "legendY": 337}}
   }},
  {"data": {"name": "fits"}, "transform": [{"filter": "datum.panel === 'c'"}],
   "mark": {"type": "line", "strokeWidth": 2},
   "encoding": {
    "x": {"field": "obs", "type": "quantitative", "title": "Observed runoff [mm]"},
    "y": {"field": "sim", "type": "quantitative", "title": null},
    "stroke": {"field": "year", "type": "nominal", "scale": {"domain": ["1:1", "Wet year", "Normal year", "Dry year"], "range": ["#8c8c8c", "#1f6fb4", "#a8821c", "#ff0000"]}, "legend": null}
   }},
  {"data": {"name": "notes"}, "transform": [{"filter": "datum.panel === 'c' && datum.year === 'title'"}],
   "mark": {"type": "text", "align": "left", "baseline": "middle", "fontSize": 17.5, "color": "#000"},
   "encoding": {"x": {"datum": 1.1}, "y": {"datum": 92.5}, "text": {"field": "label"}}},
  {"data": {"name": "notes"}, "transform": [{"filter": "datum.panel === 'c' && datum.year === 'Dry year'"}],
   "mark": {"type": "text", "align": "left", "baseline": "middle", "fontSize": 15.5, "lineHeight": 18, "lineBreak": "\n", "color": "#f51c1c"},
   "encoding": {"x": {"datum": 3.3}, "y": {"datum": 73.1}, "text": {"field": "label"}}},
  {"data": {"name": "notes"}, "transform": [{"filter": "datum.panel === 'c' && datum.year === 'Normal year'"}],
   "mark": {"type": "text", "align": "left", "baseline": "middle", "fontSize": 15.5, "lineHeight": 18, "lineBreak": "\n", "color": "#b0862a"},
   "encoding": {"x": {"datum": 62.5}, "y": {"datum": 48.1}, "text": {"field": "label"}}},
  {"data": {"name": "notes"}, "transform": [{"filter": "datum.panel === 'c' && datum.year === 'Wet year'"}],
   "mark": {"type": "text", "align": "left", "baseline": "middle", "fontSize": 15.5, "lineHeight": 18, "lineBreak": "\n", "color": "#1f70b8"},
   "encoding": {"x": {"datum": 59.5}, "y": {"datum": 24.6}, "text": {"field": "label"}}}
 ]
}
]
}
